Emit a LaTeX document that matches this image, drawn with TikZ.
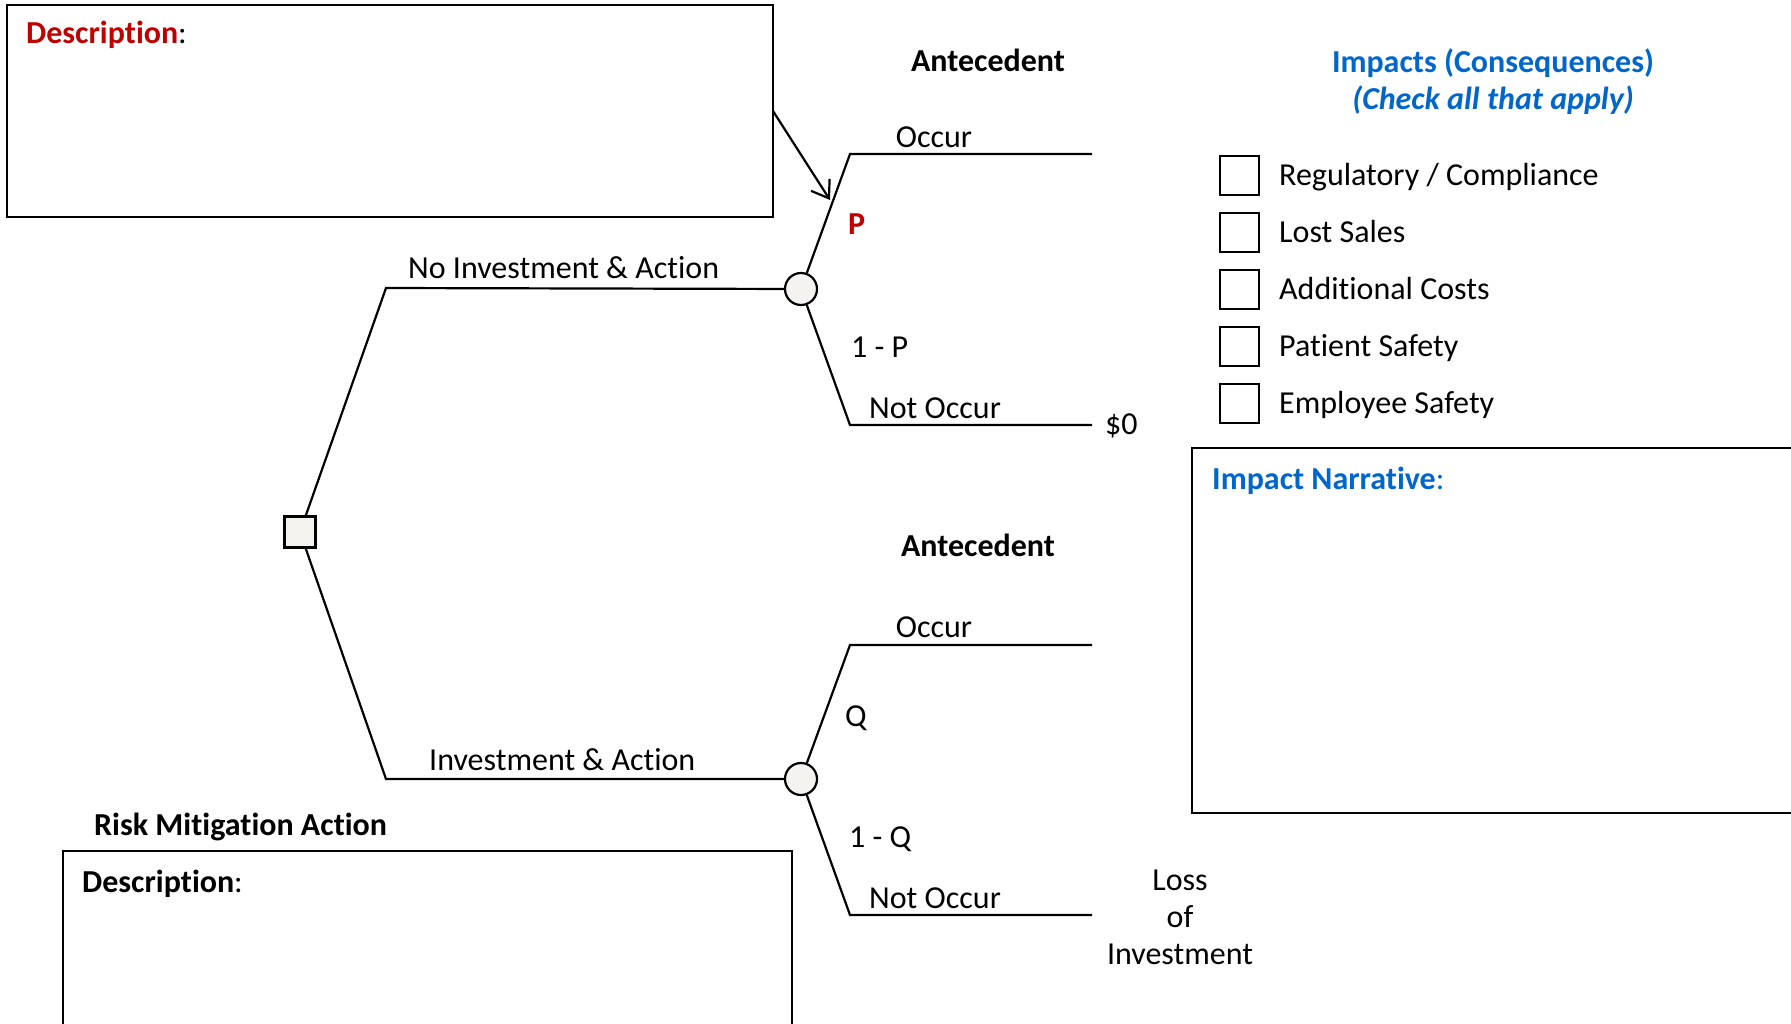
\documentclass[tikz,border=0pt]{standalone}
\usepackage{fontspec}
\setmainfont{Carlito}[Ligatures={NoCommon,NoContextual}]
\usetikzlibrary{arrows.meta}
\definecolor{descred}{HTML}{C00000}
\definecolor{headblue}{HTML}{0066CC}
\definecolor{nodefill}{HTML}{F4F3EF}

\tikzset{
  txt/.style={inner sep=0pt, font=\fontsize{32}{37}\selectfont},
  bold/.style={txt, font=\fontsize{32}{37}\selectfont\bfseries},
  panel/.style={draw=black, line width=2.2pt},
  branch/.style={draw=black, line width=2.2pt},
  decision/.style={draw=black, line width=2.2pt, fill=nodefill, minimum size=31pt, inner sep=0pt},
  chance/.style={circle, draw=black, line width=2.2pt, fill=nodefill, minimum size=32pt, inner sep=0pt},
  tickbox/.style={draw=black, line width=2pt, minimum size=39pt, inner sep=0pt},
}

\begin{document}
\begin{tikzpicture}[x=1pt, y=-1pt]
\useasboundingbox (0,0) rectangle (1791,1023);
\clip (0,0) rectangle (1791,1023);

% description panels
\draw[panel] (7,5) rectangle (773,217);
\node[bold, text=descred, anchor=base west] (desctop) at (26,43) {Description\textmd{\color{black}:}};

\node[bold, anchor=base west] (rmatitle) at (94,835) {Risk Mitigation Action};
\draw[panel] (63,851) rectangle (792,1040);
\node[bold, anchor=base west] (descbot) at (82,892) {Description\textmd{:}};

\draw[panel] (1192,448) rectangle (1800,813);
\node[bold, text=headblue, anchor=base west] (narr) at (1212,489) {Impact Narrative\textmd{:}};

% impacts checklist
\node[bold, text=headblue, anchor=base] (imphead) at (1493,72) {Impacts (Consequences)};
\node[bold, text=headblue, anchor=base] (impsub) at (1493,109) {\itshape (Check all that apply)};

\foreach \yy/\lab [count=\i] in {175/{Regulatory / Compliance}, 232/{Lost Sales}, 289/{Additional Costs}, 346/{Patient Safety}, 403/{Employee Safety}}{
  \node[tickbox] (box\i) at (1239,\yy) {};
  \node[txt, anchor=base west] (imp\i) at (1279,\yy+10.5) {\lab};
}

% decision tree nodes
\node[decision] (dec) at (300,532) {};
\node[chance] (c1) at (801,289) {};
\node[chance] (c2) at (801,779) {};

\coordinate (b1) at (386,288);
\coordinate (b2) at (386,779);
\coordinate (o1) at (850,154);
\coordinate (o1e) at (1092,154);
\coordinate (n1) at (850,425);
\coordinate (n1e) at (1092,425);
\coordinate (o2) at (850,645);
\coordinate (o2e) at (1092,645);
\coordinate (n2) at (850,915);
\coordinate (n2e) at (1092,915);

\draw[branch] (dec) -- (b1) -- (c1);
\draw[branch] (dec) -- (b2) -- (c2);
\draw[branch] (c1) -- (o1) -- (o1e);
\draw[branch] (c1) -- (n1) -- (n1e);
\draw[branch] (c2) -- (o2) -- (o2e);
\draw[branch] (c2) -- (n2) -- (n2e);

% branch labels
\node[txt, anchor=base west] (lnoinv) at (408,278) {No Investment \& Action};
\node[txt, anchor=base west] (linv) at (429,770) {Investment \& Action};

\node[bold, anchor=base] (ante1) at (988,71) {Antecedent};
\node[bold, anchor=base] (ante2) at (978,556) {Antecedent};

\node[txt, anchor=base] (occ1) at (934,147) {Occur};
\node[txt, anchor=base west] (nocc1) at (869,418) {Not Occur};
\node[txt, anchor=base] (occ2) at (934,637) {Occur};
\node[txt, anchor=base west] (nocc2) at (869,908) {Not Occur};

\node[bold, text=descred, anchor=base west] (pp) at (848,234) {P};
\node[txt, anchor=base west] (onep) at (851,357) {1 - P};
\node[txt, anchor=base west] (qq) at (845,726) {Q};
\node[txt, anchor=base west] (oneq) at (849,847) {1 - Q};

\node[txt, anchor=base west] (zero) at (1105,434) {\$0};
\node[txt, align=center, anchor=base] (loss) at (1180,964) {Loss\\of\\Investment};

% pointer from the description panel to the P branch
\coordinate (ptrstart) at (773,111);
\coordinate (ptrend) at (830,200);
\draw[line width=2.2pt, -{Straight Barb[length=16pt,width=22pt,line width=2.2pt]}] (ptrstart) -- (ptrend);
\end{tikzpicture}
\end{document}
